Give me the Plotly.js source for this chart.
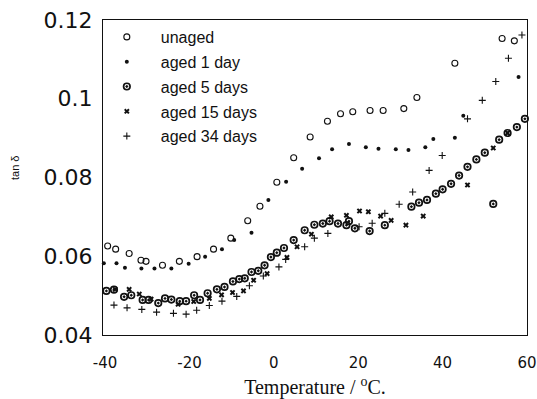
<!DOCTYPE html>
<html>
<head>
<meta charset="utf-8">
<script src="https://cdn.plot.ly/plotly-3.0.1.min.js"></script>
<style>html,body{margin:0;padding:0;background:#fff;}#chart{width:537px;height:399px;}</style>
</head>
<body>
<div id="chart"></div>
<script>
// Temperature (°C) and tan δ values
var unagedT = [-39.4,-37.5,-34.3,-31.5,-30.3,-26.4,-22.4,-18.2,-14.3,-10.2,-6.2,-3.3,0.7,4.7,8.6,12.7,15.8,18.7,22.8,25.9,30.8,33.9,42.9,54.1,57.0];
var unagedV = [0.0626,0.0618,0.0607,0.0590,0.0587,0.0577,0.0587,0.0599,0.0618,0.0646,0.0690,0.0727,0.0788,0.0850,0.0903,0.0943,0.0962,0.0967,0.0970,0.0970,0.0975,0.1003,0.1090,0.1153,0.1147];

var aged1T = [-40.3,-37.3,-35.3,-31.4,-28.3,-24.3,-20.2,-16.3,-12.3,-9.4,-5.3,-1.3,2.9,6.7,10.7,13.8,17.8,21.8,24.8,28.9,31.9,35.9,37.8,42.9,44.9,58.0];
var aged1V = [0.0582,0.0582,0.0571,0.0569,0.0569,0.0569,0.0581,0.0599,0.0618,0.0641,0.0660,0.0743,0.0789,0.0822,0.0849,0.0872,0.0885,0.0877,0.0873,0.0872,0.0870,0.0877,0.0898,0.0901,0.0957,0.1055];

var aged5T = [-39.7,-37.9,-35.5,-33.8,-31.1,-29.7,-27.4,-25.8,-24.3,-22.3,-20.8,-18.9,-17.5,-15.7,-13.5,-11.7,-9.7,-8.2,-6.9,-5.3,-3.7,-2.2,-0.7,0.7,2.4,4.7,7.3,9.6,11.6,13.2,15.2,17.2,17.8,19.2,22.7,26.3,32.6,34.4,36.3,38.4,40.0,42.0,43.9,45.9,48.0,50.0,52.0,53.4,55.4,57.6,59.5];
var aged5V = [0.0512,0.0515,0.0497,0.0501,0.0489,0.0489,0.0481,0.0493,0.0490,0.0486,0.0486,0.0501,0.0489,0.0506,0.0516,0.0522,0.0536,0.0542,0.0544,0.0560,0.0563,0.0577,0.0598,0.0609,0.0621,0.0641,0.0666,0.0680,0.0683,0.0689,0.0683,0.0679,0.0689,0.0671,0.0664,0.0679,0.0726,0.0736,0.0743,0.0759,0.0770,0.0784,0.0805,0.0827,0.0846,0.0863,0.0733,0.0896,0.0913,0.0928,0.0949];

var aged15T = [-37.6,-34.3,-31.9,-29.1,-22.7,-19.0,-15.3,-12.4,-9.8,-7.2,-4.8,-1.6,3.1,5.5,8.9,13.6,17.2,20.3,22.4,25.3,27.8,31.3,35.4,45.9,52.0,55.4];
var aged15V = [0.0516,0.0516,0.0504,0.0491,0.0478,0.0485,0.0493,0.0502,0.0508,0.0512,0.0539,0.0556,0.0597,0.0624,0.0656,0.0700,0.0704,0.0715,0.0713,0.0702,0.0691,0.0679,0.0702,0.0781,0.0875,0.0913];

var aged34T = [-37.9,-34.8,-31.3,-27.8,-23.8,-20.8,-18.3,-15.3,-12.3,-8.8,-5.8,-2.5,1.2,2.8,7.3,9.6,12.8,20.2,23.3,26.3,29.7,32.9,36.8,39.9,45.9,49.4,52.6,55.6,58.8];
var aged34V = [0.0476,0.0469,0.0465,0.0458,0.0455,0.0453,0.0463,0.0475,0.0486,0.0498,0.0525,0.0550,0.0573,0.0592,0.0624,0.0646,0.0658,0.0675,0.0684,0.0709,0.0732,0.0763,0.0818,0.0856,0.0949,0.0996,0.1044,0.1103,0.1162];

var seriesNames = ['unaged','aged 1 day','aged 5 days','aged 15 days','aged 34 days'];
var xTickVals = [-40,-20,0,20,40,60];
var xTickText = ['-40','-20','0','20','40','60'];
var yTickVals = [0.04,0.06,0.08,0.1,0.12];
var yTickText = ['0.04','0.06','0.08','0.1','0.12'];

var xs = [unagedT, aged1T, aged5T, aged15T, aged34T];
var ys = [unagedV, aged1V, aged5V, aged15V, aged34V];
var markers = [
  {symbol:'circle-open', size:6, color:'#111', line:{width:1.1, color:'#111'}},
  {symbol:'circle', size:4, color:'#111'},
  {symbol:'circle-open-dot', size:6.5, color:'#111', line:{width:1.7, color:'#111'}},
  {symbol:'x', size:5, color:'#111'},
  {symbol:'cross-thin-open', size:5, color:'#111', line:{width:1.1, color:'#111'}}
];

var traces = seriesNames.map(function(n,i){
  return {x:xs[i], y:ys[i], name:n, type:'scatter', mode:'markers',
          marker:markers[i], legendgroup:'g'+i, cliponaxis:false};
});

var layout = {
  width:537, height:399,
  margin:{l:103, r:10, t:20, b:64},
  paper_bgcolor:'#fff', plot_bgcolor:'#fff',
  showlegend:true,
  legend:{x:-0.024, y:1.0, xanchor:'left', yanchor:'top', bgcolor:'rgba(0,0,0,0)',
          font:{family:'Liberation Sans, Arial, sans-serif', size:16, color:'#111'},
          traceorder:'grouped', tracegroupgap:1, itemwidth:58},
  xaxis:{range:[-40.5,60], tickvals:xTickVals, ticktext:xTickText, showgrid:false, zeroline:false,
         showline:true, mirror:true, linecolor:'#111', linewidth:1.2, ticks:'',
         ticklabelstandoff:14,
         tickfont:{family:'DejaVu Sans, sans-serif', size:15, color:'#111'},
         title:{text:'Temperature / <sup>o</sup>C.', standoff:12,
                font:{family:'Liberation Serif, Times New Roman, serif', size:20, color:'#111'}}},
  yaxis:{range:[0.04,0.12], tickvals:yTickVals, ticktext:yTickText, showgrid:false, zeroline:false,
         showline:true, mirror:true, linecolor:'#111', linewidth:1.2, ticks:'',
         ticklabelstandoff:5,
         tickfont:{family:'DejaVu Sans, sans-serif', size:22, color:'#111'}},
  annotations:[{text:'tan δ', xref:'paper', yref:'paper', x:(15-103)/424, y:(335-168)/315,
                xanchor:'center', yanchor:'middle', showarrow:false, textangle:-90,
                font:{family:'Liberation Sans, Arial, sans-serif', size:11, color:'#111'}}]
};

Plotly.newPlot('chart', traces, layout, {displayModeBar:false, staticPlot:true});
</script>
</body>
</html>
